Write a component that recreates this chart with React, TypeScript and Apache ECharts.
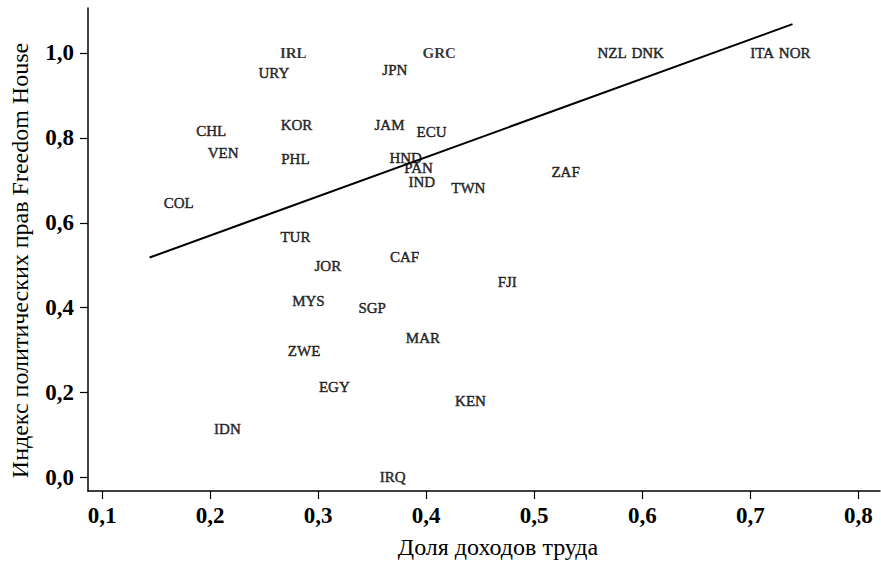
import React, { useEffect, useRef } from "react";
import * as echarts from "echarts";

const countries = ["IRL","URY","KOR","PHL","CHL","VEN","COL","TUR","JOR","MYS","ZWE","EGY","IDN","IRQ","CAF","FJI","SGP","MAR","KEN","JPN","GRC","JAM","ECU","HND","PAN","IND","TWN","ZAF","NZL","DNK","ITA","NOR"];
const laborShare = [0.277,0.259,0.280,0.279,0.201,0.212,0.171,0.279,0.309,0.291,0.287,0.315,0.216,0.369,0.380,0.475,0.350,0.397,0.441,0.371,0.412,0.366,0.405,0.381,0.393,0.396,0.439,0.529,0.572,0.605,0.711,0.741];
const freedomIndex = [1.0,0.953,0.831,0.751,0.816,0.765,0.647,0.567,0.499,0.416,0.299,0.212,0.115,0.0,0.52,0.461,0.398,0.329,0.181,0.960,1.0,0.831,0.814,0.753,0.729,0.696,0.682,0.720,1.0,1.0,1.0,1.0];
const boldLabels = ["IRL","GRC"];
const fitLineX = [0.144, 0.739];
const fitLineY = [0.518, 1.068];
const xTicks = [0.1,0.2,0.3,0.4,0.5,0.6,0.7,0.8];
const yTicks = [0.0,0.2,0.4,0.6,0.8,1.0];

const FONT = "'Liberation Serif', 'DejaVu Serif', serif";

export default function App() {
  const ref = useRef<HTMLDivElement>(null);
  useEffect(() => {
    if (!ref.current) return;
    const chart = echarts.init(ref.current, null, { renderer: "svg" });
    const fmt = (v: number) => v.toFixed(1).replace(".", ",");
    chart.setOption({
      animation: false,
      backgroundColor: "#fff",
      grid: { left: 81, right: 1, top: 8, bottom: 78 },
      xAxis: {
        type: "value",
        min: 0.087,
        max: 0.82,
        name: "Доля доходов труда",
        nameLocation: "middle",
        nameGap: 44,
        nameTextStyle: { fontFamily: FONT, fontSize: 24, color: "#000", padding: [0, 0, 0, 28] },
        axisLine: { show: true, onZero: false, lineStyle: { color: "#000", width: 1.5 } },
        axisTick: { show: true, length: 8, customValues: xTicks, lineStyle: { color: "#000", width: 1.2 } },
        axisLabel: { customValues: xTicks, formatter: fmt, margin: 13, fontFamily: FONT, fontSize: 23, fontWeight: "bold", color: "#000" },
        splitLine: { show: false },
      },
      yAxis: {
        type: "value",
        min: -0.032,
        max: 1.106,
        name: "Индекс политических прав Freedom House",
        nameLocation: "middle",
        nameGap: 56,
        nameTextStyle: { fontFamily: FONT, fontSize: 24, color: "#000", padding: [0, 22, 0, 0] },
        axisLine: { show: true, onZero: false, lineStyle: { color: "#000", width: 1.5 } },
        axisTick: { show: true, length: 8, customValues: yTicks, lineStyle: { color: "#000", width: 1.2 } },
        axisLabel: { customValues: yTicks, formatter: fmt, margin: 14, fontFamily: FONT, fontSize: 23, fontWeight: "bold", color: "#000" },
        splitLine: { show: false },
      },
      series: [
        {
          type: "scatter",
          symbolSize: 1,
          itemStyle: { color: "rgba(0,0,0,0)" },
          label: {
            show: true,
            position: "inside",
            formatter: (p: any) => p.name,
            fontFamily: FONT,
            fontSize: 15,
            color: "#000",
            textBorderColor: "#000",
            textBorderWidth: 0.5,
          },
          labelLayout: { hideOverlap: false },
          data: countries.map((c, i) => ({
            name: c,
            value: [laborShare[i], freedomIndex[i]],
            label: boldLabels.includes(c) ? { fontWeight: "bold", textBorderWidth: 0 } : undefined,
          })),
          z: 3,
        },
        {
          type: "line",
          data: fitLineX.map((x, i) => [x, fitLineY[i]]),
          symbol: "none",
          lineStyle: { color: "#000", width: 2 },
          silent: true,
          z: 2,
        },
      ],
    });
    return () => chart.dispose();
  }, []);
  return <div ref={ref} style={{ position: "fixed", left: 0, top: 0, width: 881, height: 569 }} />;
}
